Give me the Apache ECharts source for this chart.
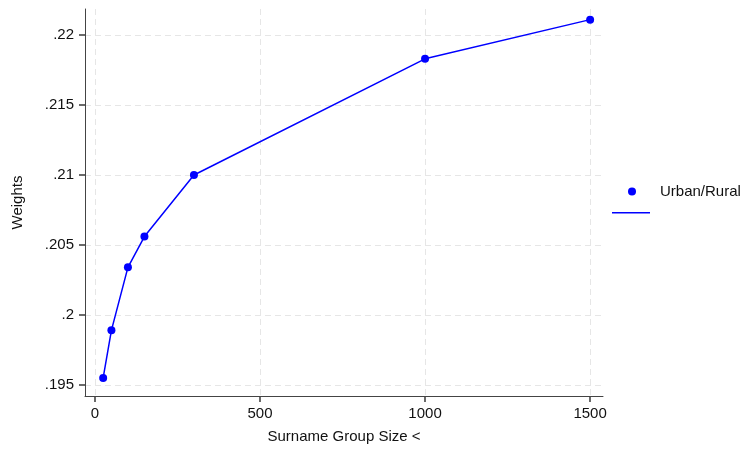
<!DOCTYPE html>
<html>
<head>
<meta charset="utf-8">
<script src="https://cdn.jsdelivr.net/npm/echarts@6/dist/echarts.min.js"></script>
<style>html,body{margin:0;padding:0;background:#fff}#c{width:753px;height:450px}</style>
</head>
<body>
<div id="c"></div>
<script>
const groupSizes = [25, 50, 100, 150, 300, 1000, 1500];
const weights = [0.1955, 0.1989, 0.2034, 0.2056, 0.2100, 0.2183, 0.2211];
const xTicks = [0, 500, 1000, 1500];
const yTicks = [0.195, 0.2, 0.205, 0.21, 0.215, 0.22];
const seriesName = 'Urban/Rural';
const xTitle = 'Surname Group Size <';
const yTitle = 'Weights';

const font = '"Liberation Sans", Arial, Helvetica, sans-serif';
const chart = echarts.init(document.getElementById('c'));
const fmtY = v => String(+v.toFixed(3)).replace(/^0\./, '.');
chart.setOption({
  animation: false,
  textStyle: {fontFamily: font},
  grid: {left: 85, right: 150, top: 9, bottom: 54, containLabel: false},
  legend: {
    data: [seriesName],
    left: 628, top: 184, padding: 0,
    icon: 'circle', itemWidth: 8, itemHeight: 8,
    textStyle: {fontFamily: font, fontSize: 15, color: '#111', padding: [0, 0, 0, 19]}
  },
  graphic: [{type: 'rect', left: 612, top: 212, shape: {width: 38, height: 1.5}, style: {fill: '#0000ff'}}],
  xAxis: {
    type: 'value', min: -30, max: 1539,
    name: xTitle, nameLocation: 'middle', nameGap: 33,
    nameTextStyle: {fontSize: 15, color: '#111', fontFamily: font},
    axisLine: {onZero: false, lineStyle: {color: '#444', width: 1}},
    axisTick: {show: true, alignWithLabel: true, length: 6, customValues: xTicks, lineStyle: {color: '#444444', width: 1.6}},
    axisLabel: {customValues: xTicks, fontSize: 15, color: '#111', margin: 10, formatter: v => String(v)},
    splitLine: {show: true, lineStyle: {color: '#e6e6e6', type: [6, 4], width: 1}}
  },
  yAxis: {
    type: 'value', min: 0.19421, max: 0.22186,
    name: yTitle, nameLocation: 'middle', nameGap: 60, nameRotate: 90,
    nameTextStyle: {fontSize: 15, color: '#111', fontFamily: font},
    axisLine: {show: true, onZero: false, lineStyle: {color: '#444', width: 1}},
    axisTick: {show: true, alignWithLabel: true, length: 6, customValues: yTicks, lineStyle: {color: '#444444', width: 1.6}},
    axisLabel: {customValues: yTicks, fontSize: 15, color: '#111', margin: 11, formatter: fmtY},
    splitLine: {show: true, lineStyle: {color: '#e6e6e6', type: [6, 4], width: 1}}
  },
  series: [{
    name: seriesName, type: 'line',
    data: groupSizes.map((x, i) => [x, weights[i]]),
    symbol: 'circle', symbolSize: 8,
    lineStyle: {color: '#0000ff', width: 1.5},
    itemStyle: {color: '#0000ff'}
  }]
});
</script>
</body>
</html>
